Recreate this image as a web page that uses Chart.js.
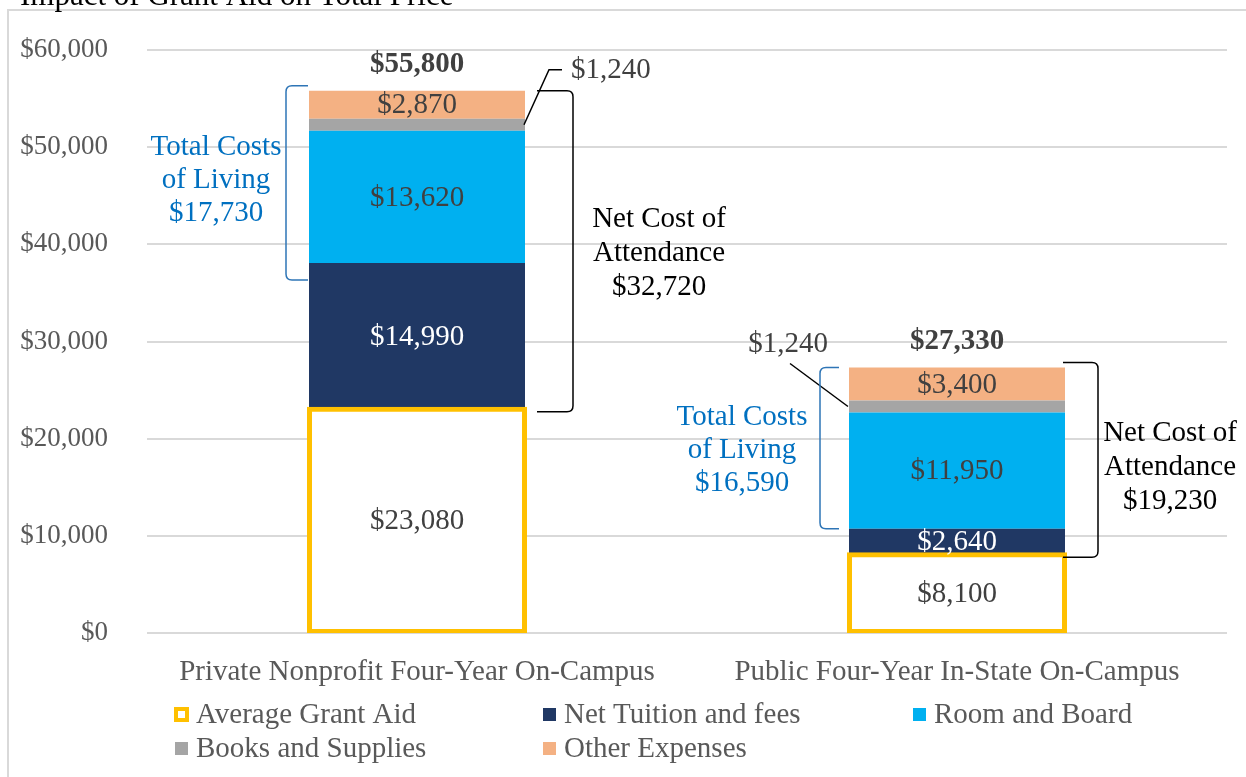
<!DOCTYPE html>
<html>
<head>
<meta charset="utf-8">
<script src="https://cdn.jsdelivr.net/npm/chart.js@4.4.1/dist/chart.umd.min.js"></script>
<style>
  body { margin: 0; background: #fff; }
</style>
</head>
<body>
<canvas id="chart" width="1246" height="777"></canvas>
<script>
const categories = ["Private Nonprofit Four-Year On-Campus", "Public Four-Year In-State On-Campus"];
const grantAid = [23080, 8100];
const netTuition = [14990, 2640];
const roomBoard = [13620, 11950];
const booksSupplies = [1240, 1240];
const otherExpenses = [2870, 3400];
const totalPrice = [55800, 27330];
const costsOfLiving = [17730, 16590];
const netCostAttendance = [32720, 19230];

const FONT = "'Liberation Serif', 'Times New Roman', serif";
const fmt = (v) => "$" + v.toLocaleString("en-US");

// per-bar tweaks for the hand-placed callouts (pixel offsets from the bar edges)
const callouts = [
  { blueX: -23, blueArm: -1, blueTop: -5, blueBot: 17, blueText: -93, blueTextDy: -3,
    blackX: 48, blackArm: 12, blackTop: 0, blackBot: 3, blackText: 134, blackTextDy: 2,
    bookLabel: { dx: 46, dy: -54, align: "left" }, bookLine: [[37, -55], [24, -55], [-1, 0]] },
  { blueX: -29, blueArm: -10, blueTop: 0, blueBot: 0, blueText: -107, blueTextDy: 2,
    blackX: 33, blackArm: -2, blackTop: -5, blackBot: 3, blackText: 105, blackTextDy: 8,
    bookLabel: { dx: -61, dy: -62, align: "center" }, bookLine: [[-59, -43], [-1, 0]] }
];

function bracket(ctx, x, top, bottom, armX, color) {
  const r = 6;
  const dir = armX < x ? -1 : 1;
  ctx.save();
  ctx.strokeStyle = color;
  ctx.lineWidth = 1.5;
  ctx.beginPath();
  ctx.moveTo(armX, top);
  ctx.lineTo(x + dir * r, top);
  ctx.quadraticCurveTo(x, top, x, top + r);
  ctx.lineTo(x, bottom - r);
  ctx.quadraticCurveTo(x, bottom, x + dir * r, bottom);
  ctx.lineTo(armX, bottom);
  ctx.stroke();
  ctx.restore();
}

function lines(ctx, textLines, x, cy, lh) {
  const start = cy - (textLines.length - 1) * lh / 2;
  textLines.forEach((t, i) => ctx.fillText(t, x, start + i * lh));
}

const annotate = {
  id: "annotate",
  afterDatasetsDraw(chart) {
    const ctx = chart.ctx;
    const y = chart.scales.y;
    ctx.save();
    ctx.textBaseline = "middle";
    ctx.textAlign = "center";

    // segment labels
    chart.data.datasets.forEach((ds, di) => {
      if (ds.label === "Books and Supplies") return;
      chart.getDatasetMeta(di).data.forEach((bar, i) => {
        ctx.fillStyle = ds.label === "Net Tuition and fees" ? "#ffffff" : "#404040";
        ctx.font = "29px " + FONT;
        ctx.fillText(fmt(ds.data[i]), bar.x, (bar.y + bar.base) / 2 + 1);
      });
    });

    const grantMeta = chart.getDatasetMeta(0).data;
    grantMeta.forEach((bar, i) => {
      const left = bar.x - bar.width / 2;
      const right = bar.x + bar.width / 2;
      const c = callouts[i];
      const yTop = y.getPixelForValue(totalPrice[i]);
      const yGrant = y.getPixelForValue(grantAid[i]);
      const yTuition = y.getPixelForValue(grantAid[i] + netTuition[i]);
      const yBooks = y.getPixelForValue(grantAid[i] + netTuition[i] + roomBoard[i] + booksSupplies[i] / 2);

      // total on top
      ctx.fillStyle = "#404040";
      ctx.font = "bold 29px " + FONT;
      ctx.textAlign = "center";
      ctx.fillText(fmt(totalPrice[i]), bar.x, yTop - 26);

      // books label with leader line
      ctx.font = "29px " + FONT;
      ctx.textAlign = c.bookLabel.align;
      ctx.fillText(fmt(booksSupplies[i]), (i === 0 ? right : left) + c.bookLabel.dx, yBooks + c.bookLabel.dy);
      ctx.strokeStyle = "#000";
      ctx.lineWidth = 1.5;
      ctx.beginPath();
      c.bookLine.forEach((p, k) => {
        const px = (i === 0 ? right : left) + p[0];
        const py = yBooks + p[1];
        if (k === 0) ctx.moveTo(px, py); else ctx.lineTo(px, py);
      });
      ctx.stroke();

      // total costs of living bracket (blue)
      const bTop = yTop + c.blueTop, bBot = yTuition + c.blueBot;
      bracket(ctx, left + c.blueX, bTop, bBot, left + c.blueArm, "#2E75B6");
      ctx.fillStyle = "#0070C0";
      ctx.textAlign = "center";
      lines(ctx, ["Total Costs", "of Living", fmt(costsOfLiving[i])], left + c.blueText, (bTop + bBot) / 2 + c.blueTextDy, 33);

      // net cost bracket (black)
      const kTop = yTop + c.blackTop, kBot = yGrant + c.blackBot;
      bracket(ctx, right + c.blackX, kTop, kBot, right + c.blackArm, "#000000");
      ctx.fillStyle = "#000000";
      lines(ctx, ["Net Cost of", "Attendance", fmt(netCostAttendance[i])], right + c.blackText, (kTop + kBot) / 2 + c.blackTextDy, 34);
    });
    ctx.restore();
  },
  afterDraw(chart) {
    const ctx = chart.ctx;
    ctx.save();
    // outer frame
    ctx.strokeStyle = "#D9D9D9";
    ctx.lineWidth = 2;
    ctx.strokeRect(8, 10, 1400, 900);
    // title, cut off by the top edge
    ctx.fillStyle = "#000";
    ctx.font = "31px " + FONT;
    ctx.textAlign = "left";
    ctx.textBaseline = "alphabetic";
    ctx.fillText("Impact of Grant Aid on Total Price", 20, 5);

    // legend
    const spots = [[175, 714], [543, 714], [913, 714], [175, 748], [543, 748]];
    ctx.textBaseline = "middle";
    ctx.font = "29px " + FONT;
    chart.data.datasets.forEach((ds, i) => {
      const [bx, by] = spots[i];
      if (ds.label === "Average Grant Aid") {
        ctx.fillStyle = ds.borderColor;
        ctx.fillRect(bx - 1, by - 7, 15, 15);
        ctx.fillStyle = "#fff";
        ctx.fillRect(bx + 3, by - 3, 7, 7);
      } else {
        ctx.fillStyle = ds.backgroundColor;
        ctx.fillRect(bx, by - 6, 13, 13);
      }
      ctx.fillStyle = "#595959";
      ctx.fillText(ds.label, bx + 21, by + 1);
    });
    ctx.restore();
  }
};

new Chart(document.getElementById("chart"), {
  type: "bar",
  data: {
    labels: categories,
    datasets: [
      { label: "Average Grant Aid", data: grantAid, backgroundColor: "#ffffff", borderColor: "#FFC000", borderWidth: 5, borderSkipped: false, inflateAmount: 2 },
      { label: "Net Tuition and fees", data: netTuition, backgroundColor: "#203864" },
      { label: "Room and Board", data: roomBoard, backgroundColor: "#00B0F0" },
      { label: "Books and Supplies", data: booksSupplies, backgroundColor: "#A5A5A5" },
      { label: "Other Expenses", data: otherExpenses, backgroundColor: "#F4B183" }
    ]
  },
  options: {
    responsive: false,
    animation: false,
    layout: { padding: { top: 50, right: 19 } },
    datasets: { bar: { categoryPercentage: 0.4, barPercentage: 1 } },
    plugins: {
      legend: { display: false },
      tooltip: { enabled: false }
    },
    scales: {
      x: {
        stacked: true,
        grid: { display: false },
        border: { display: false },
        ticks: { color: "#595959", font: { family: FONT, size: 29 }, padding: 14 },
        afterFit(scale) { scale.height = 144; }
      },
      y: {
        stacked: true,
        min: 0,
        max: 60000,
        grid: { color: "#D9D9D9", lineWidth: 2, drawTicks: false },
        border: { display: false },
        ticks: { stepSize: 10000, color: "#595959", font: { family: FONT, size: 27 }, padding: 39, callback: (v) => fmt(v) },
        afterFit(scale) {
          scale.width = 147;
          scale.paddingTop = 0;
          scale.paddingBottom = 0;
        }
      }
    }
  },
  plugins: [annotate]
});
</script>
</body>
</html>
